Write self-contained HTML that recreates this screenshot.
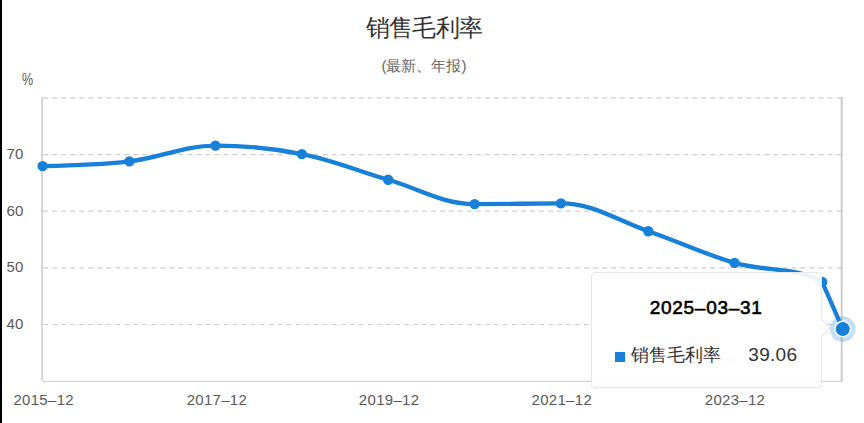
<!DOCTYPE html>
<html><head><meta charset="utf-8">
<style>
html,body{margin:0;padding:0;}
body{width:864px;height:423px;overflow:hidden;background:#fff;position:relative;font-family:"Liberation Sans",sans-serif;}
.bar{position:absolute;left:0;top:0;width:2px;height:423px;background:#000;}
.t{position:absolute;white-space:nowrap;}
.title{left:365.8px;top:12.6px;font-size:23.5px;letter-spacing:-0.7px;color:#333;line-height:30px;}
.sub{left:0;width:848px;text-align:center;top:56px;font-size:15px;color:#666;line-height:20px;}
.yl{font-size:15px;color:#5a5a5a;line-height:16px;letter-spacing:0.25px;}
.xl{font-size:15px;color:#5a5a5a;line-height:16px;top:392px;width:80px;text-align:center;letter-spacing:0.3px;}
.tip{position:absolute;left:591.3px;top:272.3px;width:229.2px;height:113.6px;border:1.6px solid #e8e8e8;border-radius:4px;background:rgba(255,255,255,0.9);box-shadow:0 1px 2px rgba(0,0,0,0.04);}
.date{position:absolute;left:57.5px;top:23px;font-size:19px;font-weight:normal;-webkit-text-stroke:0.6px #000;color:#000;letter-spacing:0.7px;line-height:24px;}
.sq{position:absolute;left:22.5px;top:78.7px;width:10px;height:10px;background:#1780d8;}
.nm{position:absolute;left:39px;top:70px;font-size:18px;color:#333;line-height:24px;}
.val{position:absolute;left:156px;top:70px;font-size:19px;color:#333;line-height:24px;letter-spacing:0.3px;}
</style></head><body>
<div class="bar"></div>
<div class="t title">销售毛利率</div>
<div class="t sub">(最新、年报)</div>
<div class="t yl" style="left:22.2px;top:71.2px;font-size:16.5px;transform:scaleX(0.76);transform-origin:0 0;letter-spacing:0">%</div>
<div class="t yl" style="left:6.5px;top:146.3px;">70</div>
<div class="t yl" style="left:6.5px;top:203.3px;">60</div>
<div class="t yl" style="left:6.5px;top:259.3px;">50</div>
<div class="t yl" style="left:6.5px;top:316.3px;">40</div>
<div class="t xl" style="left:3.7px;">2015–12</div>
<div class="t xl" style="left:176.9px;">2017–12</div>
<div class="t xl" style="left:349.1px;">2019–12</div>
<div class="t xl" style="left:521.8px;">2021–12</div>
<div class="t xl" style="left:695.0px;">2023–12</div>
<svg width="864" height="423" style="position:absolute;left:0;top:0">
<g stroke="#cfcfcf" stroke-width="1.2" transform="translate(0.2,0)" stroke-dasharray="5,4.015" fill="none">
<line x1="43" y1="97.9" x2="842" y2="97.9"/>
<line x1="43" y1="154.55" x2="842" y2="154.55"/>
<line x1="43" y1="211.2" x2="842" y2="211.2"/>
<line x1="43" y1="267.9" x2="842" y2="267.9"/>
<line x1="43" y1="324.5" x2="842" y2="324.5"/>
</g>
<line x1="42.1" y1="97.3" x2="42.1" y2="380.4" stroke="#ccc" stroke-width="1.5"/>
<line x1="42.8" y1="381.3" x2="843" y2="381.3" stroke="#c9d5ee" stroke-width="1.3"/>
<line x1="841.6" y1="97" x2="841.6" y2="381" stroke="#c8c8c8" stroke-width="1.5"/>
<path d="M42.60,166.10 C42.60,166.10 97.53,165.18 129.40,161.40 C161.50,157.59 183.46,145.60 215.50,145.60 C247.28,145.60 270.53,147.89 301.90,154.10 C334.43,160.54 356.20,170.53 388.20,179.80 C420.10,189.03 442.02,204.10 474.60,204.10 C505.92,204.10 529.74,203.40 560.90,203.40 C594.01,203.40 616.20,220.21 648.30,231.20 C680.47,242.22 702.02,253.38 734.60,262.90 C766.37,272.18 796.76,266.43 822.20,282.00 L842.75,329.10" fill="none" stroke="#1780d8" stroke-width="4.3" stroke-linejoin="round" stroke-linecap="round"/>
<circle cx="42.60" cy="166.10" r="5.2" fill="#1780d8"/>
<circle cx="129.40" cy="161.40" r="5.2" fill="#1780d8"/>
<circle cx="215.50" cy="145.60" r="5.2" fill="#1780d8"/>
<circle cx="301.90" cy="154.10" r="5.2" fill="#1780d8"/>
<circle cx="388.20" cy="179.80" r="5.2" fill="#1780d8"/>
<circle cx="474.60" cy="204.10" r="5.2" fill="#1780d8"/>
<circle cx="560.90" cy="203.40" r="5.2" fill="#1780d8"/>
<circle cx="648.30" cy="231.20" r="5.2" fill="#1780d8"/>
<circle cx="734.60" cy="262.90" r="5.2" fill="#1780d8"/>
<circle cx="822.20" cy="282.00" r="5.2" fill="#1780d8"/>
</svg>
<div class="tip"><svg width="12" height="20" style="position:absolute;left:229px;top:46px;overflow:visible"><path d="M0,0 L9,9 L0,18" fill="rgba(255,255,255,0.95)" stroke="rgba(215,215,215,0.9)" stroke-width="1"/></svg>
<div class="date">2025–03–31</div>
<div class="sq"></div>
<div class="nm">销售毛利率</div>
<div class="val">39.06</div>
</div>
<svg width="864" height="423" style="position:absolute;left:0;top:0">
<line x1="841.6" y1="97" x2="841.6" y2="381" stroke="#c8c8c8" stroke-width="1.5"/>
<circle cx="842.75" cy="329.10" r="12.8" fill="rgba(23,128,216,0.25)"/>
<circle cx="842.75" cy="329.10" r="8.5" fill="#fff"/>
<circle cx="842.75" cy="329.10" r="7" fill="#1780d8"/>
</svg>
</body></html>
